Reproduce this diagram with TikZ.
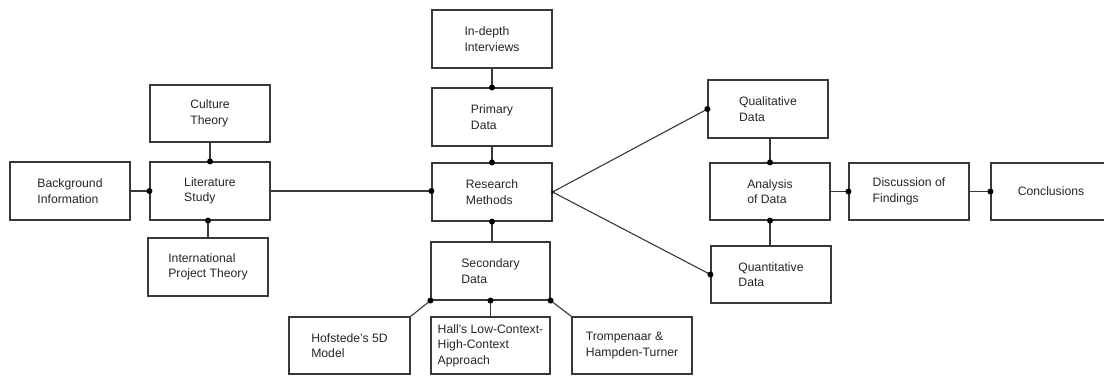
\documentclass[tikz,border=0pt]{standalone}
\usepackage{fontspec}
\setmainfont{Liberation Sans}
\begin{document}
\begin{tikzpicture}[x=1pt,y=-1pt,
  box/.style={draw=black!78,line width=1.1pt,rectangle,inner sep=0pt,
    minimum width=120pt,minimum height=58pt,align=left,text=black!85,
    font=\fontsize{12.2}{15.5}\selectfont},
  link/.style={draw=black!78,line width=1.1pt},
  dot/.style={circle,fill=black,inner sep=0pt,minimum size=6pt},
  smalldot/.style={circle,fill=black,inner sep=0pt,minimum size=3.5pt}]
\useasboundingbox[fill=white] (0,0) rectangle (1104,376);

% boxes
\node[box] (bg)    at (70,191)      {Background\\Information};
\node[box] (lit)   at (210,191)     {Literature\\Study};
\node[box,minimum height=57pt] (cult) at (210,113.5) {Culture\\Theory};
\node[box] (intl)  at (208,267)     {International\\Project Theory};
\node[box] (intv)  at (492,39)      {In-depth\\Interviews};
\node[box] (prim)  at (492,117)     {Primary\\Data};
\node[box] (rm)    at (492,192)     {Research\\Methods};
\node[box,minimum width=119pt] (sec) at (490.5,271) {Secondary\\Data};
\node[box,minimum width=121pt,minimum height=57pt] (hof)  at (349.5,345.5) {Hofstede's 5D\\Model};
\node[box,minimum width=119pt,minimum height=57pt] (hall) at (490.5,345.5) {Hall's Low-Context-\\High-Context\\Approach};
\node[box,minimum height=57pt] (tromp) at (632,345.5) {Trompenaar \&\\Hampden-Turner};
\node[box] (qual)  at (768,109)     {Qualitative\\Data};
\node[box,minimum height=57pt] (anal)  at (770,191.5) {Analysis\\of Data};
\node[box,minimum height=57pt] (quant) at (771,274.5) {Quantitative\\Data};
\node[box,minimum height=57pt] (disc)  at (909,191.5) {Discussion of\\Findings};
\node[box,minimum height=57pt] (concl) at (1051,191.5) {Conclusions};

% junction points
\coordinate (litin)  at (lit.west);
\coordinate (litbot) at (intl.north |- lit.south);
\coordinate (rmin)   at (lit.east -| rm.west);
\coordinate (secl)   at (sec.south west);
\coordinate (secm)   at (sec.south);
\coordinate (secr)   at (sec.south east);

% connectors
\draw[link] (bg.east |- litin) -- (litin);
\draw[link] (cult.south) -- (lit.north);
\draw[link] (litbot) -- (intl.north);
\draw[link] (lit.east) -- (rmin);
\draw[link] (intv.south) -- (prim.north);
\draw[link] (prim.south) -- (rm.north);
\draw[link] (rm.south) -- (rm.south |- sec.north);
\draw[link] (secl) -- (hof.north east);
\draw[link] (secm) -- (hall.north);
\draw[link] (secr) -- (tromp.north west);
\draw[link] (rm.east) -- (qual.west);
\draw[link] (rm.east) -- (quant.west);
\draw[link] (qual.south -| anal.north) -- (anal.north);
\draw[link] (anal.south) -- (quant.north -| anal.south);
\draw[link] (anal.east) -- (disc.west);
\draw[link] (disc.east) -- (concl.west);

% joint dots
\node[dot] (d1)  at (litin) {};
\node[dot] (d2)  at (lit.north) {};
\node[dot] (d3)  at (litbot) {};
\node[dot] (d4)  at (rmin) {};
\node[dot] (d5)  at (prim.north) {};
\node[dot] (d6)  at (rm.north) {};
\node[dot] (d7)  at (rm.south) {};
\node[dot] (d8)  at (secl) {};
\node[dot] (d9)  at (secm) {};
\node[dot] (d10) at (secr) {};
\node[smalldot] (d11) at (rm.east) {};
\node[dot] (d12) at (qual.west) {};
\node[dot] (d13) at (quant.west) {};
\node[dot] (d14) at (anal.north) {};
\node[dot] (d15) at (anal.south) {};
\node[dot] (d16) at (disc.west) {};
\node[dot] (d17) at (concl.west) {};
\end{tikzpicture}
\end{document}
